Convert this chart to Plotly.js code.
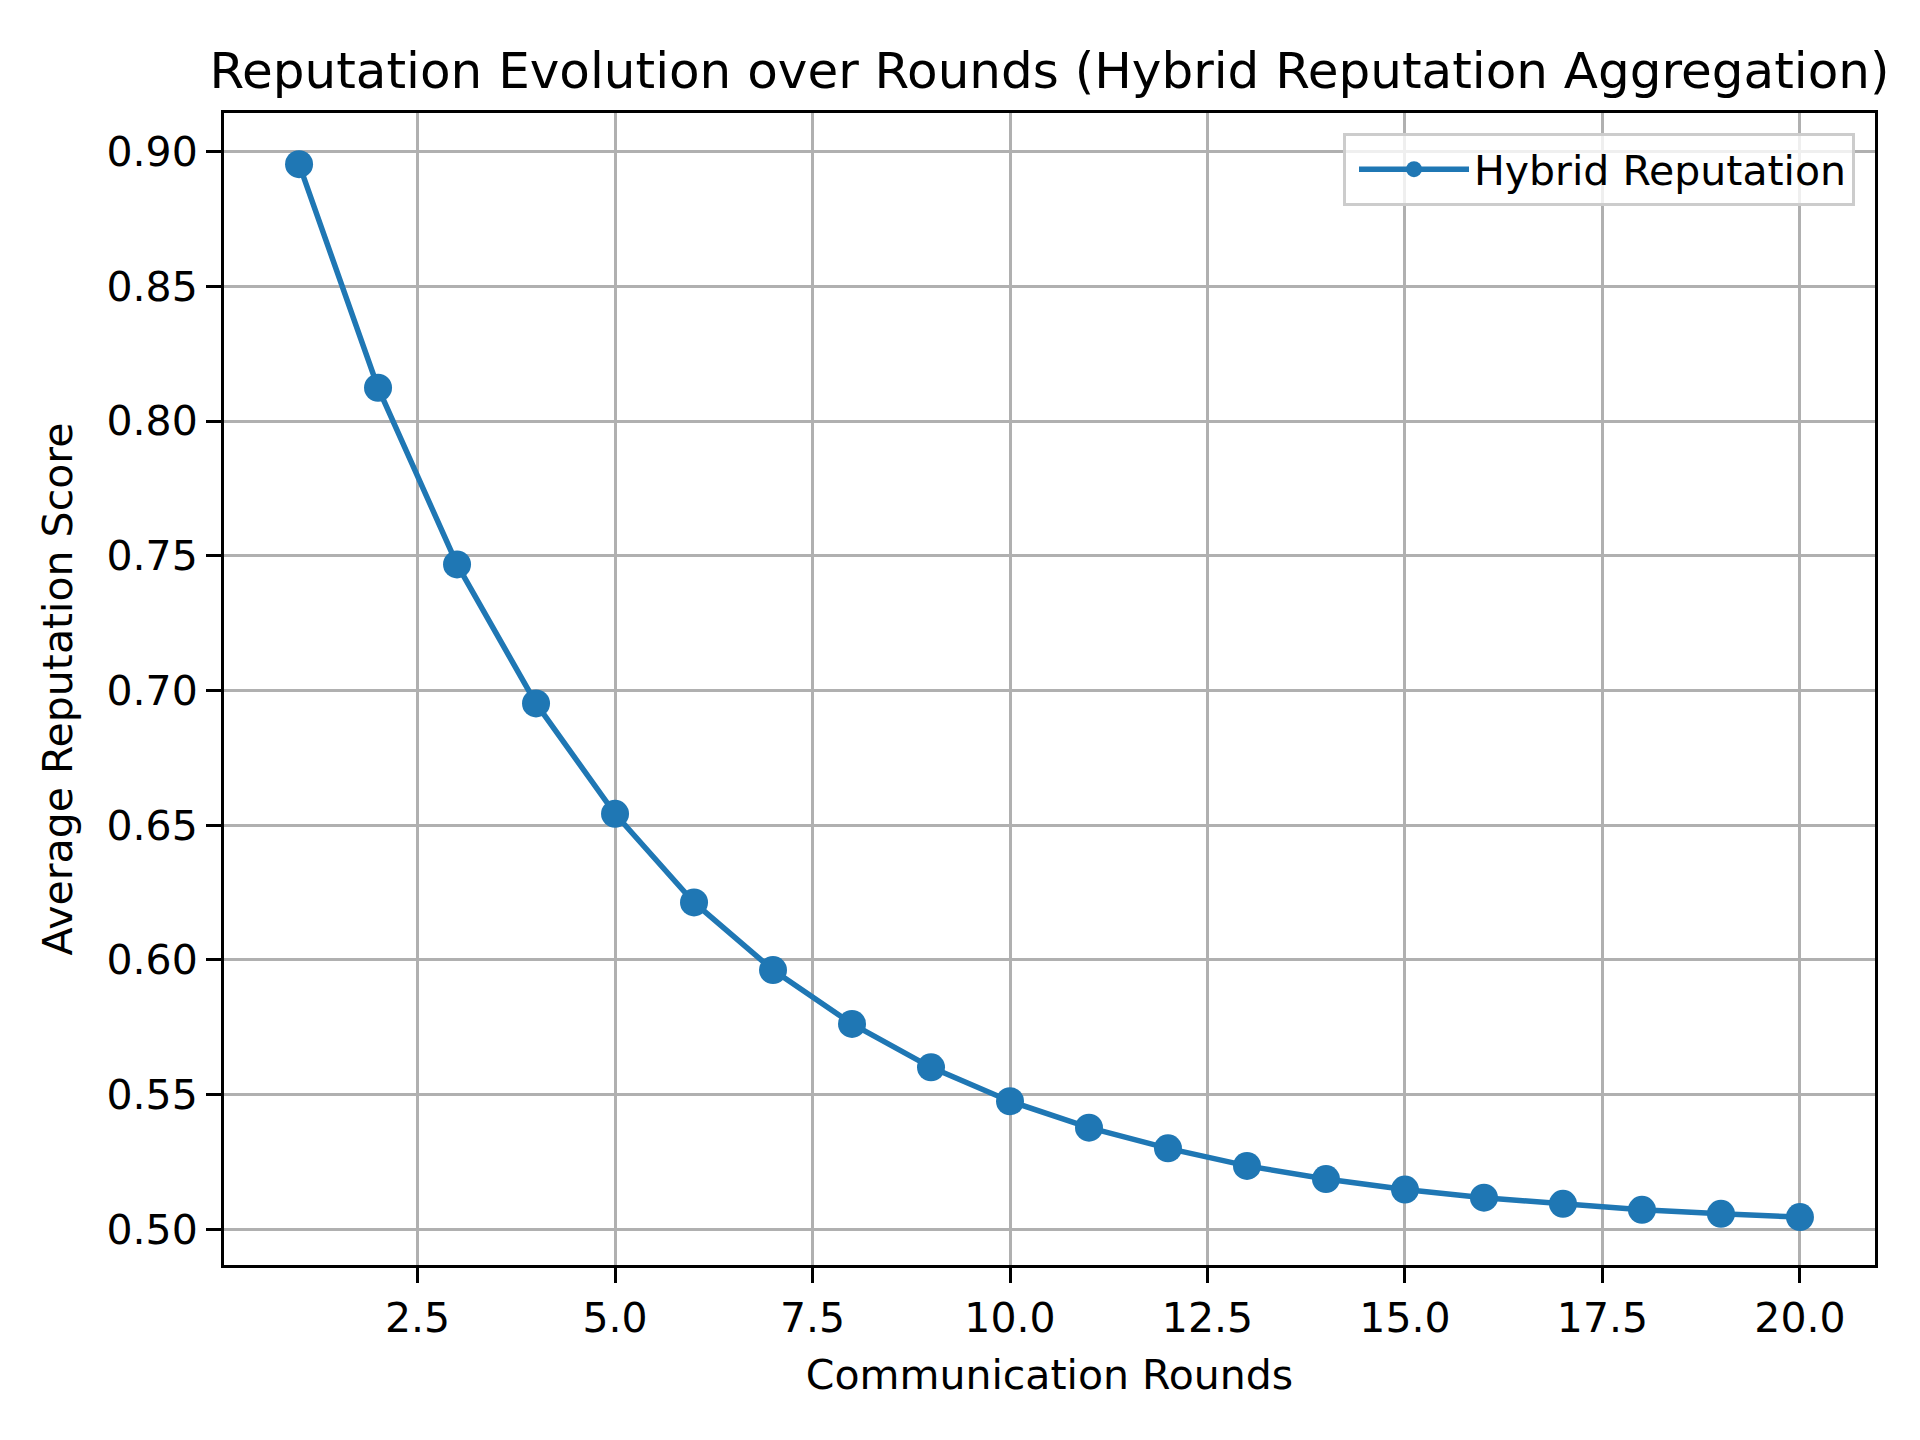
<!DOCTYPE html>
<html>
<head>
<meta charset="utf-8">
<script src="https://cdn.plot.ly/plotly-3.0.1.min.js"></script>
<style>html,body{margin:0;padding:0;background:#fff;}#chart{width:1920px;height:1440px;}</style>
</head>
<body>
<div id="chart"></div>
<script>
const rounds = [1,2,3,4,5,6,7,8,9,10,11,12,13,14,15,16,17,18,19,20];
const reputation = [0.8954,0.8124,0.7468,0.6952,0.6542,0.6213,0.5962,0.5762,0.5601,0.5475,
                    0.5377,0.5300,0.5235,0.5186,0.5147,0.5117,0.5094,0.5072,0.5057,0.5045];
const seriesName = 'Hybrid Reputation';
const chartTitle = 'Reputation Evolution over Rounds (Hybrid Reputation Aggregation)';
const xLabel = 'Communication Rounds';
const yLabel = 'Average Reputation Score';

const font = '"DejaVu Sans", sans-serif';
const trace = {
  x: rounds, y: reputation, name: seriesName, type: 'scatter', mode: 'lines+markers',
  line: {color: '#1f77b4', width: 5.5},
  marker: {color: '#1f77b4', size: 28},
  showlegend: true
};
const axisCommon = {
  showline: true, linecolor: '#000', linewidth: 3, mirror: true,
  ticks: 'outside', ticklen: 15, tickwidth: 3, tickcolor: '#000',
  showgrid: true, gridcolor: '#b0b0b0', gridwidth: 3,
  zeroline: false, automargin: false,
  tickfont: {family: font, size: 41, color: '#000'}
};
const L = 224, R = 1875, T = 113, B = 1265;
const layout = {
  width: 1920, height: 1440,
  margin: {l: L, r: 1920 - R, t: T, b: 1440 - B},
  paper_bgcolor: '#fff', plot_bgcolor: '#fff',
  font: {family: font, color: '#000'},
  showlegend: true,
  title: {text: chartTitle, font: {family: font, size: 50, color: '#000'},
          x: 0.5, xref: 'paper', xanchor: 'center', y: 1 - 70/1440, yref: 'container', yanchor: 'middle'},
  xaxis: Object.assign({}, axisCommon, {
    range: [0.05, 20.95], tick0: 0, dtick: 2.5, tickformat: '.1f',
    title: {text: xLabel, font: {family: font, size: 41, color: '#000'}, standoff: 20}
  }),
  yaxis: Object.assign({}, axisCommon, {
    range: [0.4867, 0.9144], tick0: 0.5, dtick: 0.05, tickformat: '.2f',
    title: {text: yLabel, font: {family: font, size: 41, color: '#000'}, standoff: 22}
  }),
  legend: {
    x: (1855 - L) / (R - L), xref: 'paper', xanchor: 'right',
    y: (B - 133) / (B - T), yref: 'paper', yanchor: 'top',
    bgcolor: 'rgba(255,255,255,0.8)', bordercolor: '#cccccc', borderwidth: 3,
    font: {family: font, size: 41, color: '#000'},
    itemwidth: 110, indentation: 8, tracegroupgap: 0
  }
};
Plotly.newPlot('chart', [trace], layout, {displayModeBar: false, staticPlot: true});
</script>
</body>
</html>
